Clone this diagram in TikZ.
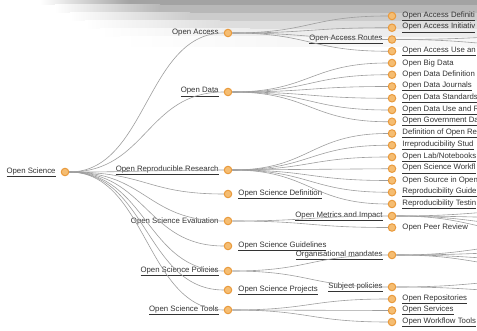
\documentclass[tikz,border=0pt]{standalone}
\usepackage{fontspec}
\setmainfont{Liberation Sans}
\usetikzlibrary{positioning}
\definecolor{dotring}{HTML}{E99A3C}
\definecolor{dotfill}{HTML}{F5BD72}

\begin{document}
\begin{tikzpicture}
    [x=1pt, y=-1pt,
    dot/.style={circle, draw=dotring, fill=dotfill, line width=1pt, minimum size=7.5pt, inner sep=0pt},
    lbl/.style={inner sep=1pt, text=black!80, font=\fontsize{7.8}{9}\selectfont},
    link/.style={draw=black!38, line width=0.6pt}]
    \useasboundingbox (0,0) rectangle (477,331);
    \clip (0,0) rectangle (477,331);

    % grey band along the top
    \foreach \ya/\hgt/\k/\xa/\xb in {0/5/36/40/130, 5/8/28/55/160, 13/8/20/70/190,
      21/8/13/85/220, 29/8/7/100/250, 37/10/3/120/280}
      {\shade [left color=white, right color=black!\k] (\xa,\ya) rectangle (\xb,\ya+\hgt);
       \fill [black!\k] (\xb,\ya) rectangle (477,\ya+\hgt);}

    % root and first level
    \node [dot] (open_science) at (65,172) {};
    \node [dot] (open_access) at (228,33) {};
    \node [dot] (open_data) at (228,92) {};
    \node [dot] (repro_research) at (228,170) {};
    \node [dot] (os_definition) at (228,194) {};
    \node [dot] (os_evaluation) at (228,221) {};
    \node [dot] (os_guidelines) at (228,246) {};
    \node [dot] (os_policies) at (228,271) {};
    \node [dot] (os_projects) at (228,290) {};
    \node [dot] (os_tools) at (228,310) {};

    \node [lbl, left=4pt of open_science] (open_science_t) {\underline{Open Science}};
    \node [lbl, left=4pt of open_access] (open_access_t) {Open Access};
    \node [lbl, left=4pt of open_data] (open_data_t) {\underline{Open Data}};
    \node [lbl, left=4pt of repro_research] (repro_research_t) {\underline{Open Reproducible Research}};
    \node [lbl, right=5pt of os_definition] (os_definition_t) {\underline{Open Science Definition}};
    \node [lbl, left=4pt of os_evaluation] (os_evaluation_t) {Open Science Evaluation};
    \node [lbl, right=5pt of os_guidelines] (os_guidelines_t) {\underline{Open Science Guidelines}};
    \node [lbl, left=4pt of os_policies] (os_policies_t) {\underline{Open Science Policies}};
    \node [lbl, right=5pt of os_projects] (os_projects_t) {\underline{Open Science Projects}};
    \node [lbl, left=4pt of os_tools] (os_tools_t) {\underline{Open Science Tools}};

    % second level
    \node [dot] (oa_def) at (392,16) {};
    \node [dot] (oa_init) at (392,27.75) {};
    \node [dot] (oa_routes) at (392,39.5) {};
    \node [dot] (oa_reuse) at (392,51.25) {};
    \node [dot] (od_big) at (392,63) {};
    \node [dot] (od_def) at (392,74.75) {};
    \node [dot] (od_journals) at (392,86.5) {};
    \node [dot] (od_standards) at (392,98.25) {};
    \node [dot] (od_reuse) at (392,110) {};
    \node [dot] (od_gov) at (392,121.75) {};
    \node [dot] (rr_def) at (392,133.5) {};
    \node [dot] (rr_irrepro) at (392,145.25) {};
    \node [dot] (rr_lab) at (392,157) {};
    \node [dot] (rr_workflows) at (392,168.75) {};
    \node [dot] (rr_source) at (392,180.5) {};
    \node [dot] (rr_guidelines) at (392,192.25) {};
    \node [dot] (rr_testing) at (392,204) {};
    \node [dot] (ev_metrics) at (392,216) {};
    \node [dot] (ev_review) at (392,227.5) {};
    \node [dot] (po_mandates) at (392,255) {};
    \node [dot] (po_subject) at (392,287) {};
    \node [dot] (to_repos) at (392,299) {};
    \node [dot] (to_services) at (392,310.5) {};
    \node [dot] (to_workflow) at (392,322) {};

    \node [lbl, right=5pt of oa_def] (oa_def_t) {\underline{Open Access Definiti}};
    \node [lbl, right=5pt of oa_init] (oa_init_t) {\underline{Open Access Initiativ}};
    \node [lbl, left=4pt of oa_routes] (oa_routes_t) {\underline{Open Access Routes}};
    \node [lbl, right=5pt of oa_reuse] (oa_reuse_t) {\underline{Open Access Use an}};
    \node [lbl, right=5pt of od_big] (od_big_t) {Open Big Data};
    \node [lbl, right=5pt of od_def] (od_def_t) {Open Data Definition};
    \node [lbl, right=5pt of od_journals] (od_journals_t) {\underline{Open Data Journals}};
    \node [lbl, right=5pt of od_standards] (od_standards_t) {\underline{Open Data Standards}};
    \node [lbl, right=5pt of od_reuse] (od_reuse_t) {\underline{Open Data Use and R}};
    \node [lbl, right=5pt of od_gov] (od_gov_t) {\underline{Open Government Da}};
    \node [lbl, right=5pt of rr_def] (rr_def_t) {\underline{Definition of Open Re}};
    \node [lbl, right=5pt of rr_irrepro] (rr_irrepro_t) {\underline{Irreproducibility Stud}};
    \node [lbl, right=5pt of rr_lab] (rr_lab_t) {\underline{Open Lab/Notebooks}};
    \node [lbl, right=5pt of rr_workflows] (rr_workflows_t) {\underline{Open Science Workfl}};
    \node [lbl, right=5pt of rr_source] (rr_source_t) {Open Source in Open};
    \node [lbl, right=5pt of rr_guidelines] (rr_guidelines_t) {\underline{Reproducibility Guide}};
    \node [lbl, right=5pt of rr_testing] (rr_testing_t) {\underline{Reproducibility Testin}};
    \node [lbl, left=4pt of ev_metrics] (ev_metrics_t) {\underline{Open Metrics and Impact}};
    \node [lbl, right=5pt of ev_review] (ev_review_t) {Open Peer Review};
    \node [lbl, left=4pt of po_mandates] (po_mandates_t) {\underline{Organisational mandates}};
    \node [lbl, left=4pt of po_subject] (po_subject_t) {\underline{Subject policies}};
    \node [lbl, right=5pt of to_repos] (to_repos_t) {\underline{Open Repositories}};
    \node [lbl, right=5pt of to_services] (to_services_t) {\underline{Open Services}};
    \node [lbl, right=5pt of to_workflow] (to_workflow_t) {\underline{Open Workflow Tools}};

    % third level lies outside the frame
    \coordinate (routes_a) at (556,36);
    \coordinate (routes_b) at (556,46);
    \coordinate (metrics_a) at (556,210);
    \coordinate (metrics_b) at (556,218);
    \coordinate (metrics_c) at (556,226);
    \coordinate (metrics_d) at (556,234);
    \coordinate (mandates_a) at (556,244);
    \coordinate (mandates_b) at (556,252);
    \coordinate (mandates_c) at (556,260);
    \coordinate (mandates_d) at (556,268);
    \coordinate (subject_a) at (556,280);
    \coordinate (subject_b) at (556,292);

    \foreach \kid in {open_access, open_data, repro_research, os_definition, os_evaluation,
      os_guidelines, os_policies, os_projects, os_tools}
      \draw [link] (open_science) .. controls +(82,0) and +(-82,0) .. (\kid);
    \foreach \kid in {oa_def, oa_init, oa_routes, oa_reuse}
      \draw [link] (open_access) .. controls +(82,0) and +(-82,0) .. (\kid);
    \foreach \kid in {od_big, od_def, od_journals, od_standards, od_reuse, od_gov}
      \draw [link] (open_data) .. controls +(82,0) and +(-82,0) .. (\kid);
    \foreach \kid in {rr_def, rr_irrepro, rr_lab, rr_workflows, rr_source, rr_guidelines,
      rr_testing}
      \draw [link] (repro_research) .. controls +(82,0) and +(-82,0) .. (\kid);
    \foreach \kid in {ev_metrics, ev_review}
      \draw [link] (os_evaluation) .. controls +(82,0) and +(-82,0) .. (\kid);
    \foreach \kid in {po_mandates, po_subject}
      \draw [link] (os_policies) .. controls +(82,0) and +(-82,0) .. (\kid);
    \foreach \kid in {to_repos, to_services, to_workflow}
      \draw [link] (os_tools) .. controls +(82,0) and +(-82,0) .. (\kid);
    \foreach \kid in {routes_a, routes_b}
      \draw [link] (oa_routes) .. controls +(82,0) and +(-82,0) .. (\kid);
    \foreach \kid in {metrics_a, metrics_b, metrics_c, metrics_d}
      \draw [link] (ev_metrics) .. controls +(82,0) and +(-82,0) .. (\kid);
    \foreach \kid in {mandates_a, mandates_b, mandates_c, mandates_d}
      \draw [link] (po_mandates) .. controls +(82,0) and +(-82,0) .. (\kid);
    \foreach \kid in {subject_a, subject_b}
      \draw [link] (po_subject) .. controls +(82,0) and +(-82,0) .. (\kid);
  \end{tikzpicture}
\end{document}
